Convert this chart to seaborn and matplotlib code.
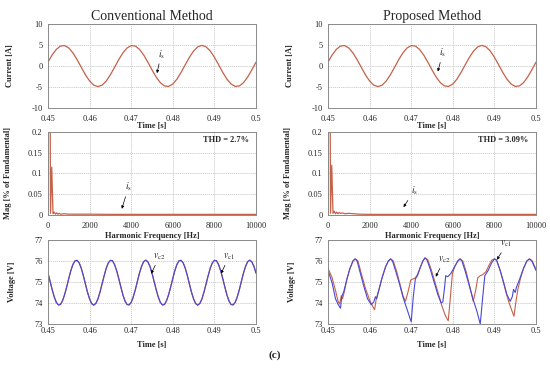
import numpy as np
import pandas as pd
import matplotlib
matplotlib.use("Agg")
import matplotlib.pyplot as plt
import seaborn as sns

# ---------------- data ----------------
time_i = np.linspace(0.45, 0.50, 51)
current_is = [0.92, 2.63, 3.96, 4.75, 4.86, 4.29, 3.12, 1.51, -0.31, -2.09,
              -3.57, -4.56, -4.90, -4.56, -3.57, -2.09, -0.31, 1.51, 3.12, 4.29,
              4.86, 4.75, 3.96, 2.63, 0.92, -0.92, -2.63, -3.96, -4.75, -4.86,
              -4.29, -3.12, -1.51, 0.31, 2.09, 3.57, 4.56, 4.90, 4.56, 3.57,
              2.09, 0.31, -1.51, -3.12, -4.29, -4.86, -4.75, -3.96, -2.63, -0.92,
              0.92]

time_v = np.linspace(0.45, 0.50, 101)
vc_conventional = [75.42, 75.03, 74.64, 74.29, 74.03, 73.91, 73.93, 74.11, 74.40, 74.77,
                   75.17, 75.55, 75.84, 76.01, 76.03, 75.91, 75.65, 75.30, 74.90, 74.51,
                   74.19, 73.97, 73.90, 73.98, 74.19, 74.52, 74.91, 75.30, 75.66, 75.91,
                   76.03, 76.01, 75.83, 75.54, 75.17, 74.77, 74.39, 74.10, 73.93, 73.91,
                   74.03, 74.29, 74.64, 75.04, 75.43, 75.75, 75.97, 76.04, 75.96, 75.75,
                   75.42, 75.03, 74.64, 74.29, 74.03, 73.91, 73.93, 74.11, 74.40, 74.77,
                   75.17, 75.55, 75.84, 76.01, 76.03, 75.91, 75.65, 75.30, 74.90, 74.51,
                   74.19, 73.97, 73.90, 73.98, 74.19, 74.52, 74.91, 75.30, 75.66, 75.91,
                   76.03, 76.01, 75.83, 75.54, 75.17, 74.77, 74.39, 74.10, 73.93, 73.91,
                   74.03, 74.29, 74.64, 75.04, 75.43, 75.75, 75.97, 76.04, 75.96, 75.75,
                   75.42]

t_vc2_prop = [0.4500, 0.4510, 0.4518, 0.4524, 0.4530, 0.4533, 0.4538, 0.4545, 0.4552, 0.4560,
              0.4565, 0.4570, 0.4578, 0.4586, 0.4595, 0.4604, 0.4610, 0.4614, 0.4617, 0.4622,
              0.4630, 0.4638, 0.4645, 0.4650, 0.4655, 0.4663, 0.4672, 0.4680, 0.4690, 0.4700,
              0.4705, 0.4710, 0.4715, 0.4722, 0.4728, 0.4733, 0.4738, 0.4746, 0.4755, 0.4764,
              0.4772, 0.4776, 0.4780, 0.4783, 0.4788, 0.4795, 0.4805, 0.4812, 0.4817, 0.4822,
              0.4830, 0.4840, 0.4850, 0.4858, 0.4866, 0.4872, 0.4877, 0.4885, 0.4893, 0.4900,
              0.4905, 0.4913, 0.4922, 0.4930, 0.4938, 0.4943, 0.4946, 0.4950, 0.4953, 0.4960,
              0.4970, 0.4978, 0.4984, 0.4990, 0.5000]
vc2_prop = [75.55, 74.95, 74.20, 73.95, 73.75, 74.30, 74.55, 75.10, 75.60, 76.00,
            76.10, 76.00, 75.40, 74.80, 74.20, 73.92, 74.05, 74.30, 74.20, 74.60,
            75.20, 75.70, 76.00, 76.10, 76.00, 75.50, 74.90, 74.30, 73.70, 73.10,
            74.30, 75.15, 75.30, 75.70, 76.00, 76.15, 76.05, 75.60, 75.00, 74.40,
            74.00, 74.05, 74.70, 75.30, 75.25, 75.40, 75.75, 76.00, 76.10, 76.00,
            75.50, 74.80, 74.10, 73.60, 73.00, 74.30, 75.30, 75.55, 75.90, 76.10,
            76.05, 75.60, 75.00, 74.40, 74.08, 74.30, 74.65, 74.50, 74.75, 75.10,
            75.65, 76.00, 76.10, 76.00, 75.55]

t_vc1_prop = [0.4500, 0.4510, 0.4518, 0.4524, 0.4528, 0.4532, 0.4535, 0.4540, 0.4545, 0.4552,
              0.4560, 0.4566, 0.4572, 0.4580, 0.4590, 0.4600, 0.4607, 0.4612, 0.4616, 0.4622,
              0.4630, 0.4638, 0.4645, 0.4651, 0.4657, 0.4665, 0.4673, 0.4680, 0.4686, 0.4692,
              0.4699, 0.4705, 0.4710, 0.4715, 0.4722, 0.4728, 0.4734, 0.4740, 0.4748, 0.4757,
              0.4766, 0.4774, 0.4782, 0.4789, 0.4793, 0.4799, 0.4805, 0.4812, 0.4818, 0.4824,
              0.4832, 0.4840, 0.4849, 0.4855, 0.4860, 0.4866, 0.4872, 0.4880, 0.4887, 0.4894,
              0.4901, 0.4906, 0.4914, 0.4922, 0.4930, 0.4938, 0.4947, 0.4952, 0.4957, 0.4963,
              0.4970, 0.4978, 0.4985, 0.4991, 0.5000]
vc1_prop = [75.65, 75.20, 74.60, 74.10, 73.95, 74.35, 74.20, 74.60, 75.10, 75.60,
            76.00, 76.10, 76.00, 75.40, 74.70, 74.15, 73.85, 73.68, 74.20, 74.60,
            75.20, 75.70, 76.00, 76.10, 76.00, 75.50, 74.90, 74.35, 74.08, 74.50,
            75.10, 75.15, 75.20, 75.35, 75.70, 76.00, 76.15, 76.05, 75.60, 75.00,
            74.40, 73.85, 73.40, 73.15, 74.00, 75.40, 75.75, 76.00, 76.10, 76.00,
            75.50, 74.85, 74.08, 74.60, 75.20, 75.30, 75.35, 75.50, 75.80, 76.05,
            76.10, 76.00, 75.55, 74.95, 74.35, 73.85, 73.37, 74.10, 74.70, 75.20,
            75.65, 76.00, 76.10, 76.00, 75.60]

freq_conv = [0, 60, 120, 180, 240, 300, 360, 420, 480, 540, 600, 800, 1000, 2000,
             3000, 4000, 5000, 6000, 7000, 8000, 9000, 10000]
mag_conv = [0.0, 1.0, 0.004, 0.115, 0.003, 0.007, 0.002, 0.005, 0.002, 0.004, 0.002, 0.003,
            0.002, 0.002, 0.0015, 0.0015, 0.0015, 0.0015, 0.0015, 0.0015, 0.0015, 0.0015]
freq_prop = [0, 60, 120, 180, 240, 300, 360, 420, 480, 540, 600, 700, 800, 1000, 1500,
             2000, 3000, 4000, 5000, 6000, 7000, 8000, 9000, 10000]
mag_prop = [0.0, 1.0, 0.004, 0.12, 0.004, 0.009, 0.003, 0.007, 0.003, 0.006, 0.004, 0.005,
            0.003, 0.004, 0.002, 0.0015, 0.0015, 0.0015, 0.0015, 0.0015, 0.0015, 0.0015,
            0.0015, 0.0015]

titles = ["Conventional Method", "Proposed Method"]
thd_labels = ["THD = 2.7%", "THD = 3.09%"]
time_ticks = [0.45, 0.46, 0.47, 0.48, 0.49, 0.5]
time_ticklabels = ["0.45", "0.46", "0.47", "0.48", "0.49", "0.5"]
cur_ticks = [-10, -5, 0, 5, 10]
mag_ticks = [0, 0.05, 0.1, 0.15, 0.2]
mag_ticklabels = ["0", "0.05", "0.1", "0.15", "0.2"]
freq_ticks = [0, 2000, 4000, 6000, 8000, 10000]
volt_ticks = [73, 74, 75, 76, 77]

# ---------------- style ----------------
sns.set_style("white")
plt.rcParams["font.family"] = ["Liberation Serif", "DejaVu Serif"]
plt.rcParams["mathtext.fontset"] = "stix"
plt.rcParams["axes.unicode_minus"] = False

RED = "#c4624a"
BLUE = "#4848d8"
GRID = "#c8c8c8"
SPINE = "#8a8a8a"
TICK_FS = 6
LAB_FS = 6

fig = plt.figure(figsize=(5.5, 3.69), dpi=100)

col_left = [48 / 550, 328 / 550]
col_w = 208 / 550
rows = [(1 - 108 / 369, 84 / 369), (1 - 215 / 369, 83 / 369), (1 - 324 / 369, 84 / 369)]


def style_axes(ax, xpad):
    for s in ax.spines.values():
        s.set_color(SPINE)
        s.set_linewidth(0.7)
    ax.grid(True, color=GRID, linestyle=(0, (1.5, 1.0)), linewidth=0.6)
    ax.set_axisbelow(True)
    ax.tick_params(axis="both", length=0, labelsize=TICK_FS)
    ax.tick_params(axis="x", pad=xpad)
    ax.tick_params(axis="y", pad=4)


arrow = dict(arrowstyle="-|>", color="black", lw=0.5, mutation_scale=4,
             shrinkA=0, shrinkB=0)

for c in range(2):
    x0 = col_left[c]
    # ---- current ----
    ax1 = fig.add_axes([x0, rows[0][0], col_w, rows[0][1]])
    sns.lineplot(x=time_i, y=current_is, ax=ax1, color=RED, linewidth=0.9,
                 estimator=None, sort=False)
    ax1.set_xlim(0.45, 0.5)
    ax1.set_ylim(-10, 10)
    ax1.set_xticks(time_ticks)
    ax1.set_xticklabels(time_ticklabels)
    ax1.set_yticks(cur_ticks)
    style_axes(ax1, 5)
    ax1.set_xlabel("Time [s]", fontsize=LAB_FS, fontweight="bold")
    ax1.xaxis.set_label_coords(0.5, -0.17)
    ax1.set_ylabel("Current [A]", fontsize=LAB_FS, fontweight="bold")
    ax1.yaxis.set_label_coords(-0.165, 0.5)
    ax1.set_title(titles[c], fontsize=10, pad=3)
    if c == 0:
        ax1.annotate(r"$i_{\mathrm{s}}$", xy=(0.4762, -1.7), xytext=(0.4772, 1.3),
                     fontsize=7, ha="center", va="bottom", arrowprops=arrow)
    else:
        ax1.annotate(r"$i_{\mathrm{s}}$", xy=(0.4764, -1.3), xytext=(0.4776, 1.6),
                     fontsize=7, ha="center", va="bottom", arrowprops=arrow)

    # ---- spectrum ----
    ax2 = fig.add_axes([x0, rows[1][0], col_w, rows[1][1]])
    fq = freq_conv if c == 0 else freq_prop
    mg = mag_conv if c == 0 else mag_prop
    sns.lineplot(x=fq, y=mg, ax=ax2, color=RED, linewidth=0.9,
                 estimator=None, sort=False)
    ax2.set_xlim(0, 10000)
    ax2.set_ylim(0, 0.2)
    ax2.set_xticks(freq_ticks)
    ax2.set_yticks(mag_ticks)
    ax2.set_yticklabels(mag_ticklabels)
    style_axes(ax2, 5)
    ax2.set_xlabel("Harmonic Frequency [Hz]", fontsize=LAB_FS, fontweight="bold")
    ax2.xaxis.set_label_coords(0.5, -0.2)
    ax2.set_ylabel("Mag [% of Fundamental]", fontsize=LAB_FS, fontweight="bold")
    ax2.yaxis.set_label_coords(-0.175, 0.5)
    ax2.text(0.965, 0.9, thd_labels[c], transform=ax2.transAxes, ha="right",
             va="center", fontsize=LAB_FS, fontweight="bold")
    if c == 0:
        ax2.annotate(r"$i_{\mathrm{s}}$", xy=(3550, 0.015), xytext=(3870, 0.052),
                     fontsize=7, ha="center", va="bottom", arrowprops=arrow)
    else:
        ax2.annotate(r"$i_{\mathrm{s}}$", xy=(3630, 0.019), xytext=(4140, 0.043),
                     fontsize=7, ha="center", va="bottom", arrowprops=arrow)

    # ---- voltage ----
    ax3 = fig.add_axes([x0, rows[2][0], col_w, rows[2][1]])
    if c == 0:
        sns.lineplot(x=time_v, y=vc_conventional, ax=ax3, color=RED, linewidth=0.9,
                     estimator=None, sort=False)
        sns.lineplot(x=time_v, y=vc_conventional, ax=ax3, color=BLUE, linewidth=0.8,
                     estimator=None, sort=False)
    else:
        sns.lineplot(x=t_vc1_prop, y=vc1_prop, ax=ax3, color=RED, linewidth=0.8,
                     estimator=None, sort=False)
        sns.lineplot(x=t_vc2_prop, y=vc2_prop, ax=ax3, color=BLUE, linewidth=0.8,
                     estimator=None, sort=False)
    ax3.set_xlim(0.45, 0.5)
    ax3.set_ylim(73, 77)
    ax3.set_xticks(time_ticks)
    ax3.set_xticklabels(time_ticklabels)
    ax3.set_yticks(volt_ticks)
    style_axes(ax3, 2)
    ax3.set_xlabel("Time [s]", fontsize=LAB_FS, fontweight="bold")
    ax3.xaxis.set_label_coords(0.5, -0.2)
    ax3.set_ylabel("Voltage [V]", fontsize=LAB_FS, fontweight="bold")
    ax3.yaxis.set_label_coords(-0.155, 0.5)
    if c == 0:
        ax3.annotate(r"$v_{\mathrm{c2}}$", xy=(0.4748, 75.4), xytext=(0.4768, 75.95),
                     fontsize=7, ha="center", va="bottom", arrowprops=arrow)
        ax3.annotate(r"$v_{\mathrm{c1}}$", xy=(0.4916, 75.4), xytext=(0.4935, 75.95),
                     fontsize=7, ha="center", va="bottom", arrowprops=arrow)
    else:
        ax3.annotate(r"$v_{\mathrm{c2}}$", xy=(0.4759, 75.25), xytext=(0.4779, 75.8),
                     fontsize=7, ha="center", va="bottom", arrowprops=arrow)
        ax3.annotate(r"$v_{\mathrm{c1}}$", xy=(0.4906, 76.06), xytext=(0.4929, 76.55),
                     fontsize=7, ha="center", va="bottom", arrowprops=arrow,
                     annotation_clip=False)

fig.text(0.5, 1 - 355 / 369, "(c)", ha="center", va="center", fontsize=8,
         fontweight="bold")

fig.savefig("out.png", dpi=100)
